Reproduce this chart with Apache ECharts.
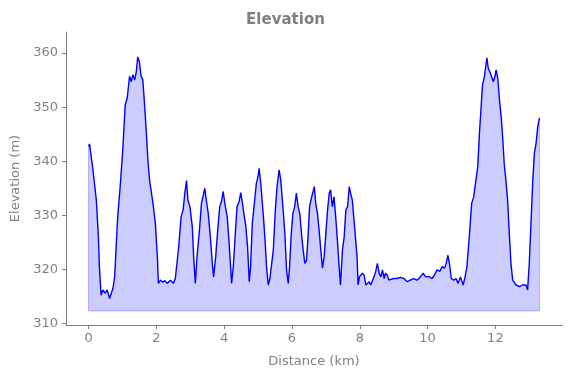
<!DOCTYPE html>
<html>
<head>
<meta charset="utf-8">
<script src="https://cdn.jsdelivr.net/npm/echarts@6/dist/echarts.min.js"></script>
<style>
  html, body { margin: 0; padding: 0; background: #fff; }
  #chart { width: 571px; height: 378px; }
</style>
</head>
<body>
<div id="chart"></div>
<script>
// distance along the route (km)
const distanceKm = [
  0, 0.03, 0.13, 0.23, 0.29, 0.32, 0.37, 0.42, 0.49, 0.55, 0.62, 0.67, 0.72, 0.77, 0.86, 0.94,
  1.01, 1.08, 1.14, 1.21, 1.26, 1.31, 1.36, 1.41, 1.45, 1.5, 1.55, 1.6, 1.65, 1.7, 1.75, 1.8,
  1.9, 1.97, 2.03, 2.06, 2.12, 2.19, 2.25, 2.32, 2.42, 2.5, 2.56, 2.61, 2.66, 2.73, 2.79, 2.84,
  2.89, 2.93, 2.99, 3.06, 3.1, 3.15, 3.2, 3.28, 3.33, 3.38, 3.43, 3.48, 3.53, 3.6, 3.65, 3.69,
  3.75, 3.81, 3.87, 3.92, 3.97, 4.02, 4.09, 4.14, 4.19, 4.22, 4.27, 4.33, 4.38, 4.44, 4.49, 4.54,
  4.58, 4.64, 4.69, 4.74, 4.78, 4.83, 4.9, 4.95, 5.0, 5.03, 5.08, 5.15, 5.2, 5.25, 5.3, 5.35,
  5.4, 5.45, 5.51, 5.56, 5.62, 5.67, 5.74, 5.79, 5.84, 5.89, 5.93, 5.98, 6.03, 6.08, 6.13, 6.18,
  6.23, 6.28, 6.33, 6.38, 6.43, 6.48, 6.52, 6.57, 6.62, 6.66, 6.7, 6.75, 6.8, 6.85, 6.9, 6.95,
  7.0, 7.05, 7.1, 7.14, 7.19, 7.24, 7.29, 7.34, 7.39, 7.43, 7.49, 7.54, 7.59, 7.64, 7.69, 7.73,
  7.78, 7.83, 7.88, 7.92, 7.95, 7.99, 8.04, 8.08, 8.13, 8.18, 8.23, 8.28, 8.32, 8.37, 8.42, 8.47,
  8.52, 8.57, 8.62, 8.67, 8.72, 8.76, 8.81, 8.86, 8.91, 9.0, 9.1, 9.2, 9.3, 9.4, 9.49, 9.59,
  9.69, 9.79, 9.87, 9.94, 10.03, 10.13, 10.2, 10.28, 10.36, 10.43, 10.5, 10.55, 10.6, 10.65, 10.7, 10.77,
  10.84, 10.9, 10.97, 11.05, 11.11, 11.16, 11.23, 11.3, 11.36, 11.4, 11.48, 11.53, 11.58, 11.62, 11.67, 11.72,
  11.75, 11.79, 11.85, 11.89, 11.94, 11.99, 12.02, 12.07, 12.12, 12.17, 12.22, 12.26, 12.31, 12.36, 12.41, 12.46,
  12.51, 12.56, 12.61, 12.66, 12.71, 12.76, 12.8, 12.85, 12.9, 12.95, 13.0, 13.05, 13.1, 13.15, 13.2, 13.25,
  13.3
];

// elevation (m)
const elevationM = [
  342.7, 343.2, 338.4, 332.8, 326, 320.5, 315.2, 316.2, 315.6, 316.2, 314.6, 314.6, 316.5, 318.6, 329.7, 335.9,
  342.1, 350.4, 351.7, 355.7, 354.7, 356, 355, 356.6, 359.3, 358.4, 355.7, 355.1, 350.7, 345.8, 340.2, 336.5,
  332.2, 328.5, 322.3, 317.4, 318, 317.6, 317.9, 317.4, 318, 317.4, 318.3, 318.6, 324.2, 329.7, 331, 334.1,
  336.4, 332.8, 331.6, 327.9, 322.3, 317.4, 322.3, 327.9, 332.2, 332.5, 335, 332.5, 330.4, 325.4, 321.1, 318.6,
  322.3, 327.3, 331.6, 332.5, 334.4, 332.2, 329.7, 325.4, 320.5, 317.4, 320.5, 326.7, 331.6, 332.5, 334.2, 332.2,
  330.4, 327.9, 324.2, 317.7, 320.5, 328.5, 332.8, 335.9, 337.2, 338.7, 335.9, 330.4, 326, 320.5, 317.1, 318.3,
  318.3, 323.6, 331, 335.3, 338.4, 336.5, 331, 326.7, 319.9, 317.4, 320.5, 326.7, 330.4, 331.6, 334.1, 331.6,
  330.4, 326.7, 323.6, 321.1, 321.7, 326.7, 331.6, 333.1, 333.4, 335.3, 332.2, 330.4, 327.3, 323.6, 320.2, 322.3,
  326.7, 331, 334.1, 334.7, 331.6, 333.4, 329.7, 325.4, 320.5, 317.1, 323.6, 326, 331, 331.6, 335.3, 334.1,
  332.8, 329.1, 325.4, 322.3, 317.1, 318.6, 318.3, 319.3, 318.9, 317.1, 317.4, 317.7, 317.1, 317.4, 318.6, 319.6,
  321.1, 319.3, 318.6, 319.9, 318.3, 319.3, 318.9, 318, 318.3, 318.3, 318.3, 318.5, 318.3, 317.7, 318, 318.3,
  318, 318.6, 319.3, 318.6, 318.7, 318.3, 318.9, 319.9, 319.6, 320.5, 320.2, 321.1, 322.6, 320.8, 318.3, 318,
  318.3, 317.4, 318.6, 317.1, 318.7, 320.5, 326, 332.2, 333.4, 335.3, 339, 345.2, 350.1, 354.1, 355.4, 357.8,
  359.1, 357.2, 356.3, 356, 354.7, 355.7, 356.9, 355.4, 351.4, 348.3, 343.9, 339.6, 336.5, 332.8, 326.7, 321.1,
  318, 318, 317.1, 317.1, 316.8, 316.8, 317.1, 316.8, 317.1, 316.2, 321.1, 328.5, 335.9, 341.5, 343.3, 346.4,
  348
];

const baseElevation = 312.3;
const xTicks = [0, 2, 4, 6, 8, 10, 12];
const yTicks = [310, 320, 330, 340, 350, 360];

const profile = distanceKm.map((d, i) => [d, elevationM[i]]);
const last = distanceKm.length - 1;
// outline of the filled polygon (sides and base)
const outline = [
  [distanceKm[0], elevationM[0]],
  [distanceKm[0], baseElevation],
  [distanceKm[last], baseElevation],
  [distanceKm[last], elevationM[last]]
];

const grey = '#808080';
const font = 'DejaVu Sans';

let myChart = echarts.init(document.getElementById('chart'));
myChart.setOption({
  animation: false,
  title: {
    text: 'Elevation',
    left: 'center',
    top: 8,
    textStyle: { color: grey, fontSize: 15, fontWeight: 'bold', fontFamily: font }
  },
  grid: { left: 66, right: 9, top: 32, bottom: 53 },
  xAxis: {
    type: 'value',
    min: -0.665,
    max: 13.965,
    name: 'Distance (km)',
    nameLocation: 'middle',
    nameGap: 30,
    nameTextStyle: { color: grey, fontSize: 13, fontFamily: font },
    axisLine: { show: true, onZero: false, lineStyle: { color: grey, width: 1 } },
    axisTick: { show: true, length: 4, customValues: xTicks, lineStyle: { color: grey } },
    axisLabel: { customValues: xTicks, color: grey, fontSize: 13, margin: 7, fontFamily: font },
    splitLine: { show: false }
  },
  yAxis: {
    type: 'value',
    min: 309.7,
    max: 363.9,
    name: 'Elevation (m)',
    nameLocation: 'middle',
    nameGap: 42,
    nameTextStyle: { color: grey, fontSize: 13, fontFamily: font },
    axisLine: { show: true, onZero: false, lineStyle: { color: grey, width: 1 } },
    axisTick: { show: true, length: 4, customValues: yTicks, lineStyle: { color: grey } },
    axisLabel: { customValues: yTicks, color: grey, fontSize: 13, margin: 8, fontFamily: font },
    splitLine: { show: false }
  },
  series: [
    {
      type: 'line',
      data: outline,
      showSymbol: false,
      silent: true,
      lineStyle: { color: 'rgba(0,0,255,0.25)', width: 1 },
      z: 1
    },
    {
      type: 'line',
      data: profile,
      showSymbol: false,
      lineStyle: { color: '#0000ff', width: 1.4 },
      areaStyle: { color: 'rgba(0,0,255,0.2)', origin: baseElevation, opacity: 1 },
      z: 2
    }
  ]
});
window.addEventListener('resize', () => {
  if (myChart) {
    myChart.resize();
  }
});
</script>
</body>
</html>
